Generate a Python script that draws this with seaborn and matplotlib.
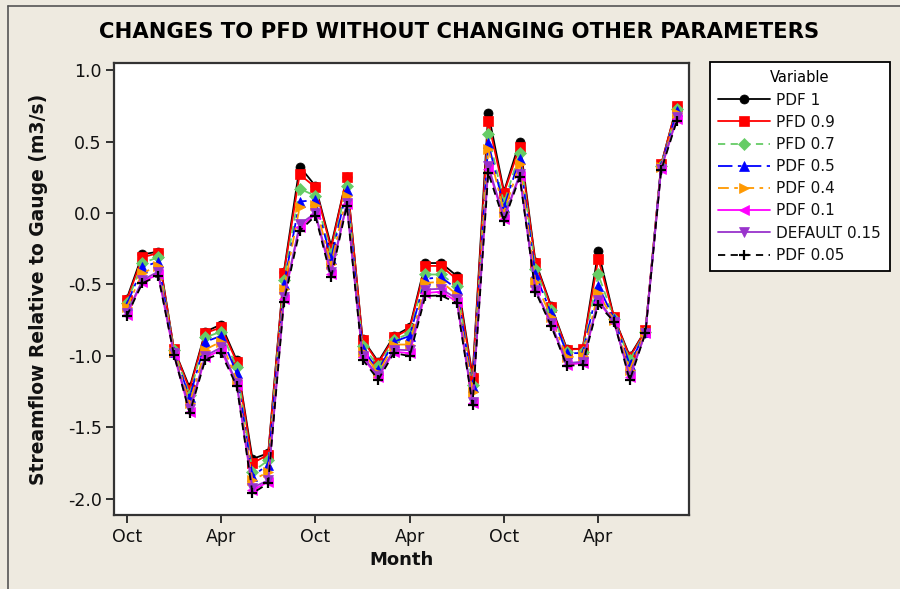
import matplotlib
matplotlib.use("Agg")
import matplotlib.pyplot as plt
import seaborn as sns
import numpy as np
import pandas as pd

sns.set_style("white")
plt.rcParams['font.family'] = ['DejaVu Sans']
plt.rcParams['axes.unicode_minus'] = False
plt.rcParams['text.color'] = 'black'

# months index 0..35 (Oct of year 1 through Sep of year 4)
months = list(range(36))
tick_positions = [0, 6, 12, 18, 24, 30]
tick_labels = ["Oct", "Apr", "Oct", "Apr", "Oct", "Apr"]

pdf_1 = [-0.60, -0.29, -0.27, -0.95, -1.22, -0.83, -0.78, -1.03, -1.72, -1.68, -0.41, 0.325,
         0.19, -0.23, 0.25, -0.88, -1.04, -0.86, -0.80, -0.35, -0.35, -0.44, -1.14, 0.70,
         0.15, 0.50, -0.34, -0.65, -0.95, -0.95, -0.266, -0.73, -1.00, -0.82, 0.34, 0.75]
pfd_09 = [-0.61, -0.31, -0.28, -0.95, -1.235, -0.84, -0.80, -1.04, -1.75, -1.69, -0.42, 0.27,
          0.18, -0.25, 0.25, -0.885, -1.05, -0.87, -0.81, -0.37, -0.37, -0.465, -1.155, 0.64,
          0.14, 0.465, -0.35, -0.66, -0.955, -0.95, -0.32, -0.73, -1.01, -0.82, 0.34, 0.75]
pfd_07 = [-0.63, -0.35, -0.31, -0.96, -1.27, -0.87, -0.83, -1.08, -1.81, -1.73, -0.47, 0.17,
          0.12, -0.29, 0.19, -0.93, -1.07, -0.89, -0.84, -0.43, -0.43, -0.51, -1.20, 0.55,
          0.07, 0.42, -0.39, -0.68, -0.97, -0.97, -0.43, -0.74, -1.03, -0.83, 0.33, 0.73]
pdf_05 = [-0.64, -0.38, -0.34, -0.97, -1.29, -0.90, -0.86, -1.12, -1.84, -1.76, -0.50, 0.08,
          0.09, -0.32, 0.16, -0.95, -1.10, -0.90, -0.86, -0.46, -0.45, -0.53, -1.22, 0.49,
          0.04, 0.38, -0.43, -0.70, -0.98, -0.98, -0.51, -0.74, -1.06, -0.83, 0.33, 0.715]
pdf_04 = [-0.66, -0.42, -0.37, -0.97, -1.33, -0.955, -0.90, -1.165, -1.87, -1.81, -0.53, 0.04,
          0.055, -0.36, 0.12, -0.97, -1.12, -0.92, -0.92, -0.49, -0.48, -0.57, -1.25, 0.45,
          0.01, 0.34, -0.48, -0.73, -1.01, -1.00, -0.56, -0.75, -1.095, -0.83, 0.32, 0.70]
pdf_01 = [-0.71, -0.48, -0.43, -0.99, -1.39, -1.01, -0.96, -1.20, -1.94, -1.88, -0.60, -0.10,
          -0.01, -0.43, 0.06, -1.01, -1.15, -0.97, -0.98, -0.56, -0.55, -0.62, -1.33, 0.31,
          -0.04, 0.26, -0.54, -0.78, -1.06, -1.05, -0.62, -0.76, -1.15, -0.84, 0.31, 0.66]
default_015 = [-0.70, -0.47, -0.41, -0.98, -1.37, -1.00, -0.94, -1.19, -1.92, -1.87, -0.59, -0.08,
               0.00, -0.41, 0.07, -1.00, -1.14, -0.955, -0.96, -0.535, -0.53, -0.60, -1.32, 0.33,
               -0.03, 0.27, -0.535, -0.77, -1.05, -1.04, -0.605, -0.76, -1.14, -0.84, 0.31, 0.67]
pdf_005 = [-0.72, -0.49, -0.44, -0.99, -1.40, -1.025, -0.98, -1.21, -1.96, -1.89, -0.62, -0.125,
           -0.02, -0.45, 0.05, -1.025, -1.165, -0.98, -1.00, -0.58, -0.577, -0.63, -1.34, 0.28,
           -0.056, 0.25, -0.55, -0.79, -1.07, -1.06, -0.64, -0.76, -1.17, -0.84, 0.30, 0.645]

series_names = ["PDF 1", "PFD 0.9", "PFD 0.7", "PDF 0.5", "PDF 0.4", "PDF 0.1", "DEFAULT 0.15", "PDF 0.05"]
series_values = [pdf_1, pfd_09, pfd_07, pdf_05, pdf_04, pdf_01, default_015, pdf_005]

styles = [
    dict(color="black", marker="o", linestyle="-", ms=6.5),
    dict(color="#FF0000", marker="s", linestyle="-", ms=6.5),
    dict(color="#66CC66", marker="D", linestyle=(0, (4, 3)), ms=6),
    dict(color="#0000FF", marker="^", linestyle=(0, (8, 3, 2, 3)), ms=6.5),
    dict(color="#FF9900", marker=">", linestyle=(0, (6, 3, 2, 3)), ms=6.5),
    dict(color="#FF00FF", marker="<", linestyle="-", ms=6.5),
    dict(color="#9933CC", marker="v", linestyle="-", ms=6.5),
    dict(color="black", marker="+", linestyle=(0, (4, 3)), ms=7.5),
]

bg = "#EEEAE0"
fig = plt.figure(figsize=(9, 5.89), dpi=100, facecolor=bg)
ax = fig.add_axes([114/900, 1 - 515/589, 575/900, 452/589])
ax.set_facecolor("white")

for name, vals, st in zip(series_names, series_values, styles):
    df = pd.DataFrame({"Month": months, "Value": vals})
    sns.lineplot(data=df, x="Month", y="Value", ax=ax, color=st["color"],
                 marker=st["marker"], linestyle=st["linestyle"], markersize=st["ms"],
                 markeredgewidth=1.6 if st["marker"] == "+" else 0.5,
                 markeredgecolor=st["color"], linewidth=1.3, label=name)

ax.set_xlim(-0.81, 35.77)
ax.set_ylim(-2.112, 1.049)
ax.set_xticks(tick_positions)
ax.set_xticklabels(tick_labels)
yt = [-2.0, -1.5, -1.0, -0.5, 0.0, 0.5, 1.0]
ax.set_yticks(yt)
ax.set_yticklabels([f"{v:.1f}" for v in yt])
ax.tick_params(axis="both", which="both", direction="out", length=6, width=1.3,
               colors="#222222", labelsize=12.5, left=True, bottom=True, pad=3)
for lbl in ax.get_xticklabels() + ax.get_yticklabels():
    lbl.set_color("#111111")
for sp in ax.spines.values():
    sp.set_color("#333333")
    sp.set_linewidth(1.6)

ax.set_xlabel("Month", fontsize=13, fontweight="bold", labelpad=4, color="#111111")
ax.set_ylabel("Streamflow Relative to Gauge (m3/s)", fontsize=13.5, fontweight="bold",
              labelpad=14, color="#111111")

fig.text(459/900, 1 - 32/589, "CHANGES TO PFD WITHOUT CHANGING OTHER PARAMETERS",
         ha="center", va="center", fontsize=15.2, fontweight="bold", color="black")

handles, labels = ax.get_legend_handles_labels()
if ax.legend_:
    ax.legend_.remove()
leg = fig.legend(handles, labels, title="Variable", loc="upper left",
                 bbox_to_anchor=(710/900, 1 - 62/589), frameon=True, fancybox=False,
                 edgecolor="black", facecolor="white", framealpha=1, fontsize=11,
                 title_fontsize=10.5, handlelength=3.4, borderpad=0.55, labelspacing=0.47,
                 handletextpad=0.4, borderaxespad=0)
leg.get_frame().set_linewidth(1.3)
leg._legend_box.align = "center"
for t in leg.get_texts():
    t.set_color("#111111")

# outer frame lines (left and top)
fig.add_artist(plt.Line2D([8/900, 8/900], [0, 1 - 6/589], transform=fig.transFigure, color="#555555", lw=1.2))
fig.add_artist(plt.Line2D([8/900, 1], [1 - 6/589, 1 - 6/589], transform=fig.transFigure, color="#555555", lw=1.2))

fig.savefig("out.png", dpi=100, facecolor=bg)
